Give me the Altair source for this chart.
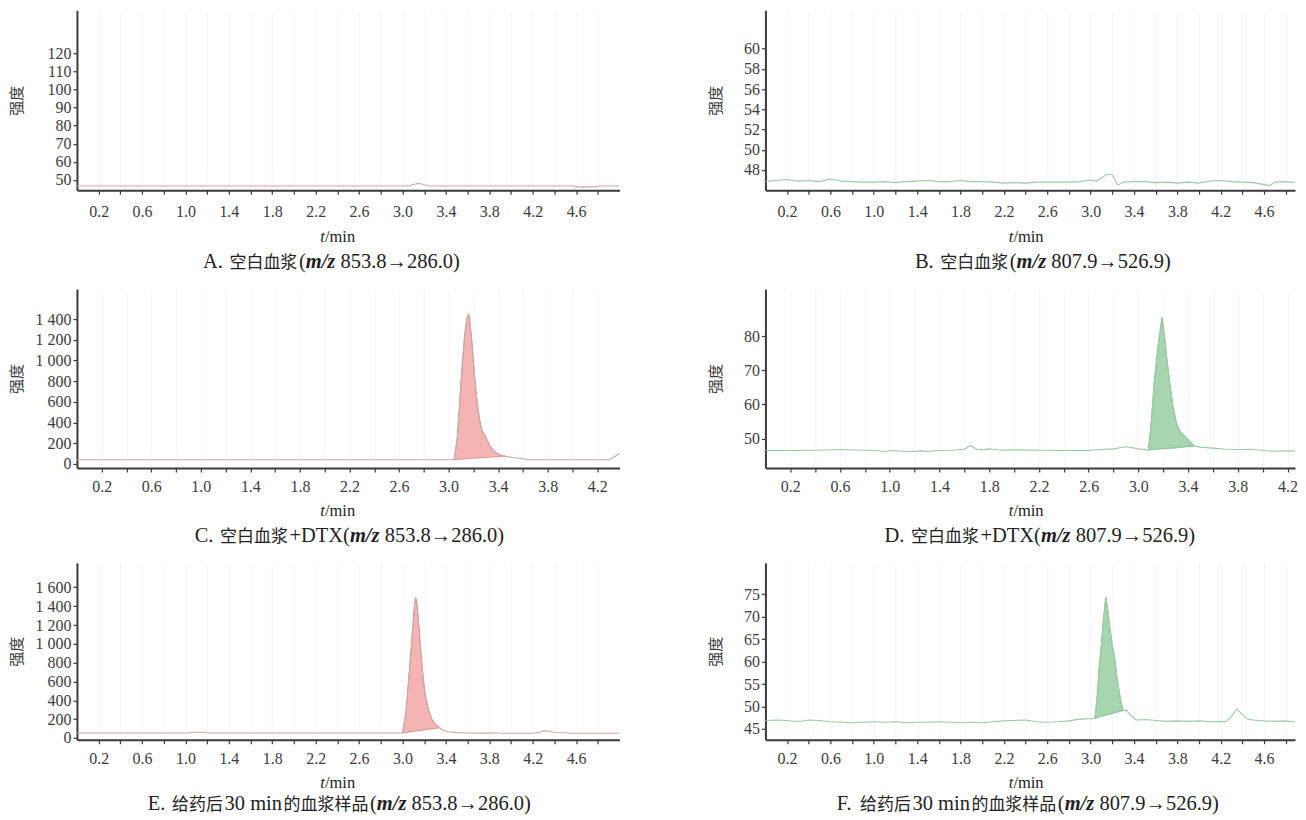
import altair as alt
import pandas as pd

FONT = "Liberation Serif, DejaVu Serif, Noto Sans CJK SC"
AX = "#3a3a3a"
LC = "#3c3c3c"

# ---------------- tick values ----------------
X_TICKS_50 = [0.2, 0.4, 0.6, 0.8, 1.0, 1.2, 1.4, 1.6, 1.8, 2.0, 2.2, 2.4, 2.6, 2.8,
              3.0, 3.2, 3.4, 3.6, 3.8, 4.0, 4.2, 4.4, 4.6, 4.8]
X_TICKS_44 = [0.2, 0.4, 0.6, 0.8, 1.0, 1.2, 1.4, 1.6, 1.8, 2.0, 2.2, 2.4, 2.6, 2.8,
              3.0, 3.2, 3.4, 3.6, 3.8, 4.0, 4.2]
Y_TICKS_A = [50, 60, 70, 80, 90, 100, 110, 120]
Y_TICKS_B = [48, 50, 52, 54, 56, 58, 60]
Y_TICKS_C = [0, 200, 400, 600, 800, 1000, 1200, 1400]
Y_TICKS_D = [50, 60, 70, 80]
Y_TICKS_E = [0, 200, 400, 600, 800, 1000, 1200, 1400, 1600]
Y_TICKS_F = [45, 50, 55, 60, 65, 70, 75]

# ---------------- captions ----------------
CAPTIONS = ["A. 空白血浆(m/z 853.8→286.0)", "B. 空白血浆(m/z 807.9→526.9)",
            "C. 空白血浆+DTX(m/z 853.8→286.0)", "D. 空白血浆+DTX(m/z 807.9→526.9)",
            "E. 给药后30 min的血浆样品(m/z 853.8→286.0)",
            "F. 给药后30 min的血浆样品(m/z 807.9→526.9)"]
CAP_MZ = "m/z"
Y_TITLE = "强度"
X_TITLE_T = "t"
X_TITLE_REST = "/min"

# ---------------- A ----------------
A_T = [0.0, 3.06, 3.10, 3.14, 3.17, 3.21, 3.25, 4.58, 4.60, 4.78, 4.80, 5.0]
A_V = [46.6, 46.6, 47.4, 48.0, 47.9, 47.2, 46.6, 46.6, 46.1, 46.1, 46.6, 46.6]

# ---------------- B ----------------
B_T = [0.0, 0.1, 0.2, 0.3, 0.4, 0.5, 0.6, 0.7, 0.8, 0.9, 1.0, 1.1, 1.2, 1.3, 1.4, 1.5,
       1.6, 1.7, 1.8, 1.9, 2.0, 2.1, 2.2, 2.3, 2.4, 2.5, 2.6, 2.7, 2.8, 2.9, 3.0,
       3.05, 3.1, 3.15, 3.2, 3.25, 3.3, 3.4, 3.5, 3.6, 3.7, 3.8, 3.9, 4.0, 4.1, 4.2,
       4.3, 4.4, 4.5, 4.6, 4.65, 4.7, 4.8, 4.9, 5.0]
B_V = [46.85, 46.95, 47.05, 46.9, 46.95, 46.85, 47.1, 46.9, 46.85, 46.8,
       46.8, 46.85, 46.75, 46.85, 46.9, 46.95, 46.85, 46.85, 46.95, 46.85,
       46.85, 46.8, 46.7, 46.75, 46.7, 46.8, 46.8, 46.8, 46.8, 46.85, 47.0,
       46.9, 47.2, 47.6, 47.5, 46.5, 46.8,
       46.85, 46.85, 46.75, 46.8, 46.7, 46.8, 46.7, 46.9, 46.95, 46.85, 46.8, 46.75, 46.55,
       46.45, 46.8, 46.85, 46.75, 46.95]

# ---------------- C ----------------
C_T = [0.0, 3.045, 3.07, 3.09, 3.11, 3.13, 3.15, 3.16, 3.17, 3.19, 3.21, 3.23, 3.25,
       3.27, 3.30, 3.33, 3.36, 3.39, 3.42, 3.46, 3.52, 3.60, 3.63, 4.30, 4.38]
C_V = [40, 42, 250, 600, 950, 1250, 1420, 1445, 1410, 1150, 850, 600, 430,
       320, 260, 180, 135, 105, 85, 75, 60, 52, 40, 40, 100]
CF_T = [3.045, 3.07, 3.09, 3.11, 3.13, 3.15, 3.16, 3.17, 3.19, 3.21, 3.23, 3.25, 3.27,
        3.30, 3.33, 3.36, 3.39, 3.42, 3.46]
CF_TOP = [42, 250, 600, 950, 1250, 1420, 1445, 1410, 1150, 850, 600, 430, 320,
          260, 180, 135, 105, 85, 75]
CF_BASE = [42, 44, 46, 47, 49, 50, 51, 52, 54, 55, 57, 58, 60, 62, 65, 67, 69, 72, 75]

# ---------------- D ----------------
D_T = [0.0, 0.2, 0.4, 0.6, 0.8, 0.9, 0.95, 1.0, 1.1, 1.2, 1.25, 1.3, 1.4, 1.5, 1.6,
       1.65, 1.7, 1.75, 1.8, 1.85, 1.9, 2.0, 2.2, 2.4, 2.6, 2.7, 2.8, 2.85, 2.9, 2.95,
       3.0, 3.05, 3.08, 3.10, 3.13, 3.16, 3.19, 3.21, 3.23, 3.25, 3.28, 3.31, 3.34,
       3.38, 3.42, 3.45, 3.5, 3.6, 3.7, 3.8, 3.9, 4.0, 4.1, 4.2, 4.3, 4.38]
D_V = [46.5, 46.5, 46.6, 46.8, 46.6, 46.5, 46.1, 46.5, 46.3, 46.2, 46.4, 46.2, 46.5, 46.6, 46.9,
       48.0, 46.9, 46.7, 47.0, 46.8, 46.6, 46.7, 46.6, 46.5, 46.5, 46.8, 47.0, 47.3, 47.6, 47.3,
       47.0, 46.8, 46.6, 53, 67.5, 77.5, 85.5, 80, 73, 67, 59, 54, 52,
       50.5, 49, 47.8, 47.5, 47.2, 46.9, 46.8, 46.9, 46.5, 46.3, 46.4, 46.4, 46.4]
DF_T = [3.08, 3.10, 3.13, 3.16, 3.19, 3.21, 3.23, 3.25, 3.28, 3.31, 3.34, 3.38, 3.42, 3.45]
DF_TOP = [46.6, 53, 67.5, 77.5, 85.5, 80, 73, 67, 59, 54, 52, 50.5, 49, 47.8]
DF_BASE = [46.6, 46.7, 46.8, 46.9, 47.0, 47.0, 47.1, 47.2, 47.2, 47.3, 47.4, 47.6, 47.7, 47.8]

# ---------------- E ----------------
E_T = [0.0, 1.02, 1.05, 1.18, 1.22, 2.98, 3.00, 3.03, 3.05, 3.07, 3.09, 3.11, 3.12, 3.13,
       3.15, 3.17, 3.19, 3.21, 3.24, 3.27, 3.30, 3.34, 3.38, 3.42, 3.50, 3.60, 3.80, 3.85,
       3.90, 4.20, 4.26, 4.30, 4.34, 4.40, 4.50, 4.55, 5.0]
E_V = [52, 52, 60, 60, 53, 52, 52, 250, 520, 800, 1100, 1400, 1490, 1460,
       1200, 900, 640, 450, 300, 200, 150, 108, 80, 66, 57, 52, 51, 56,
       50, 50, 60, 76, 74, 58, 55, 50, 50]
EF_T = [3.00, 3.03, 3.05, 3.07, 3.09, 3.11, 3.12, 3.13, 3.15, 3.17, 3.19, 3.21, 3.24,
        3.27, 3.30, 3.34]
EF_TOP = [52, 250, 520, 800, 1100, 1400, 1490, 1460, 1200, 900, 640, 450, 300, 200, 150, 108]
EF_BASE = [52, 57, 60, 64, 67, 70, 72, 73, 77, 80, 83, 87, 92, 96, 101, 108]

# ---------------- F ----------------
F_T = [0.0, 0.1, 0.2, 0.3, 0.4, 0.5, 0.6, 0.7, 0.8, 0.9, 1.0, 1.1, 1.2, 1.3, 1.4, 1.5,
       1.6, 1.7, 1.8, 1.9, 2.0, 2.1, 2.2, 2.3, 2.4, 2.5, 2.6, 2.7, 2.8, 2.9, 3.0,
       3.04, 3.06, 3.08, 3.10, 3.12, 3.14, 3.16, 3.18, 3.20, 3.22, 3.24, 3.26, 3.28, 3.30,
       3.33, 3.37, 3.42, 3.5, 3.6, 3.7, 3.8, 3.9, 4.0, 4.1, 4.2, 4.25, 4.3, 4.35, 4.4,
       4.45, 4.5, 4.6, 4.7, 4.8, 4.9, 5.0]
F_V = [46.8, 47.0, 46.9, 46.6, 47.0, 46.9, 46.6, 46.5, 46.4, 46.5,
       46.6, 46.5, 46.6, 46.4, 46.5, 46.5, 46.6, 46.5, 46.4, 46.5,
       46.4, 46.6, 46.8, 46.9, 47.0, 46.6, 46.5, 46.6, 46.8, 47.2, 47.3,
       47.4, 52, 59, 64, 70, 74.3, 71, 67, 63.5, 61, 57, 53.8, 51, 49.1,
       49.2, 48.0, 47.0, 47.1, 46.9, 46.7, 46.8, 46.7, 46.8, 46.6, 46.7, 46.6, 47.8, 49.5, 48.2,
       47.2, 47.0, 46.8, 46.7, 46.8, 46.5, 46.6]
FF_T = [3.04, 3.06, 3.08, 3.10, 3.12, 3.14, 3.16, 3.18, 3.20, 3.22, 3.24, 3.26, 3.28, 3.30]
FF_TOP = [47.4, 52, 59, 64, 70, 74.3, 71, 67, 63.5, 61, 57, 53.8, 51, 49.1]
FF_BASE = [47.4, 47.5, 47.7, 47.8, 47.9, 48.1, 48.2, 48.3, 48.4, 48.6, 48.7, 48.8, 49.0, 49.1]

RED_LINE = "#d4a4a4"
RED_FILL = "#f5b4b4"
RED_EDGE = "#d98585"
GRN_LINE = "#9ccaa6"
GRN_FILL = "#a7d5b0"
GRN_EDGE = "#74b083"

XLAB = "(round(datum.value*10) % 4 == 2) ? format(datum.value, '.1f') : ''"
YLAB_THOUS = "replace(format(datum.value, ','), ',', ' ')"
YLAB_PLAIN = "format(datum.value, 'd')"

LAT_FS = 20.5
CJK_FS = 17
LAB_FS = 16
TMIN_FS = 16.5
CJK_GAP = 1.5

WID = {"A": .722, "B": .667, "C": .667, "D": .722, "E": .611, "F": .556, "T": .611,
       "X": .722, ".": .25, " ": .25, "(": .333, ")": .333, "+": .564,
       "m": .778, "i": .278, "n": .5, "/": .278, "z": .444, "t": .278, "\u2192": .838}


def is_cjk(ch):
    return ord(ch) >= 0x2E80


def est_width(s, fs):
    w = 0.0
    for ch in s:
        if is_cjk(ch):
            w += 1.0
        elif ch.isdigit():
            w += 0.5
        else:
            w += WID.get(ch, 0.6)
    return w * fs


def text_layer(s, x, y, size, style="normal", weight="normal", align="left",
               baseline="alphabetic", color="#222222"):
    return alt.Chart(pd.DataFrame({"s": [s]})).mark_text(
        font=FONT, fontSize=size, fontStyle=style, fontWeight=weight,
        align=align, baseline=baseline, color=color
    ).encode(x=alt.value(x), y=alt.value(y), text="s:N")


def runs(part):
    out, run, cur = [], "", None
    for ch in part:
        c = is_cjk(ch)
        if cur is None or c == cur:
            run += ch
        else:
            out.append((run, cur))
            run = ch
        cur = c
    if run:
        out.append((run, cur))
    return out


def caption_layers(cap, cx, cy):
    pre, post = cap.split(CAP_MZ)
    items = []
    prev_kind = None

    def push(text, fs, style, weight, lead, width, kind):
        nonlocal prev_kind
        gap = CJK_GAP if (prev_kind is not None and prev_kind != kind) else 0.0
        items.append((text, fs, style, weight, lead + gap, width))
        prev_kind = kind

    for part, styled in [(pre, False), (CAP_MZ, True), (post, False)]:
        if styled:
            push(part, LAT_FS, "italic", "bold", 0.0, 1.445 * LAT_FS, "lat")
            continue
        for run, cj in runs(part):
            if cj:
                push(run, CJK_FS, "normal", "normal", 0.0, est_width(run, CJK_FS), "cjk")
            else:
                core = run.strip(" ")
                lead = (len(run) - len(run.lstrip(" "))) * 0.25 * LAT_FS
                trail = (len(run) - len(run.rstrip(" "))) * 0.25 * LAT_FS
                push(core, LAT_FS, "normal", "normal", lead, est_width(core, LAT_FS) + trail, "lat")
    total = sum(it[4] + it[5] for it in items)
    x = cx - total / 2
    out = []
    for text, fs, st, wt, before, w in items:
        x += before
        if text:
            out.append(text_layer(text, x, cy, fs, style=st, weight=wt))
        x += w
    return out


def panel(idx, t, v, fill, xmax, xticks, ydom, yticks, lc, fc, ec, cap_cx,
          width, height, title_x, lab_pad, tmin_dy, cap_dy, thousands):
    xs = alt.Scale(domain=[0, xmax], nice=False, zero=False)
    ys = alt.Scale(domain=ydom, nice=False, zero=False)
    x_axis = alt.Axis(values=xticks, labelExpr=XLAB, title=None, grid=True,
                      gridColor="#f6f6f6", gridWidth=1,
                      domainColor=AX, domainWidth=2, tickColor=AX, tickWidth=1.2,
                      tickSize=4, labelFont=FONT, labelFontSize=LAB_FS, labelColor=LC,
                      labelPadding=lab_pad, labelOverlap=False, labelFlush=False)
    y_axis = alt.Axis(values=yticks, labelExpr=YLAB_THOUS if thousands else YLAB_PLAIN,
                      title=Y_TITLE, titleX=title_x, titleY=height / 2, titleAngle=270,
                      titleAlign="center", titleBaseline="middle", titleFont=FONT,
                      titleFontSize=15, titleFontWeight="normal", titleColor=LC,
                      domainColor=AX, domainWidth=2, tickColor=AX, tickWidth=1.2,
                      tickSize=4, labelFont=FONT, labelFontSize=LAB_FS, labelColor=LC,
                      labelPadding=2, grid=False, labelOverlap=False)
    X = alt.X("t:Q", scale=xs, axis=x_axis)
    Y = alt.Y("v:Q", scale=ys, axis=y_axis)
    layers = []
    if fill is not None:
        fdf = pd.DataFrame({"t": fill[0], "v": fill[1], "v2": fill[2]})
        layers.append(alt.Chart(fdf).mark_area(fill=fc, fillOpacity=1, stroke=ec,
                                               strokeWidth=0.8, clip=True)
                      .encode(x=X, y=Y, y2="v2:Q"))
    ldf = pd.DataFrame({"t": t, "v": v})
    layers.append(alt.Chart(ldf).mark_line(color=lc, strokeWidth=1.1, clip=True)
                  .encode(x=X, y=Y))
    tcx = 261
    w_t = 0.278 * TMIN_FS
    w_rest = est_width(X_TITLE_REST, TMIN_FS)
    anchor = tcx - (w_t + w_rest) / 2 + w_t
    ty = height + tmin_dy + 0.33 * TMIN_FS
    layers.append(text_layer(X_TITLE_T, anchor, ty, TMIN_FS, style="italic", align="right"))
    layers.append(text_layer(X_TITLE_REST, anchor, ty, TMIN_FS, align="left"))
    layers += caption_layers(CAPTIONS[idx], cap_cx, height + cap_dy + 0.33 * LAT_FS)
    return alt.layer(*layers).properties(width=width, height=height)


WL = 543
WR = 530
pA = panel(0, A_T, A_V, None, 5.0, X_TICKS_50, [44.3, 143.9], Y_TICKS_A,
           RED_LINE, RED_FILL, RED_EDGE, 253, WL, 180, -60, 9, 46, 71, False)
pB = panel(1, B_T, B_V, None, 4.885, X_TICKS_50, [46.0, 63.8], Y_TICKS_B,
           GRN_LINE, GRN_FILL, GRN_EDGE, 276, WR, 180, -50, 9, 46, 71, False)
pC = panel(2, C_T, C_V, (CF_T, CF_TOP, CF_BASE), 4.38, X_TICKS_44, [-39, 1691], Y_TICKS_C,
           "#c4aaaa", RED_FILL, RED_EDGE, 271, WL, 179, -60, 7, 43, 67, True)
pD = panel(3, D_T, D_V, (DF_T, DF_TOP, DF_BASE), 4.26, X_TICKS_44, [41.4, 93.8], Y_TICKS_D,
           GRN_LINE, GRN_FILL, GRN_EDGE, 273, WR, 179, -50, 7, 43, 67, False)
pE = panel(4, E_T, E_V, (EF_T, EF_TOP, EF_BASE), 5.0, X_TICKS_50, [-19, 1860], Y_TICKS_E,
           RED_LINE, RED_FILL, RED_EDGE, 261, WL, 177, -60, 7, 43, 64, True)
pF = panel(5, F_T, F_V, (FF_T, FF_TOP, FF_BASE), 4.885, X_TICKS_50, [42.6, 82.0], Y_TICKS_F,
           GRN_LINE, GRN_FILL, GRN_EDGE, 261, WR, 177, -50, 7, 43, 64, False)

row1 = alt.hconcat(pA, pB, spacing=89)
row2 = alt.hconcat(pC, pD, spacing=89)
row3 = alt.hconcat(pE, pF, spacing=89)

chart = alt.vconcat(row1, row2, row3, spacing=16).properties(
    padding={"left": 2, "top": 2, "right": 0, "bottom": 0},
    background="white"
).configure_view(stroke=None)

chart.save("out.html", embed_options={"renderer": "svg", "actions": False})
